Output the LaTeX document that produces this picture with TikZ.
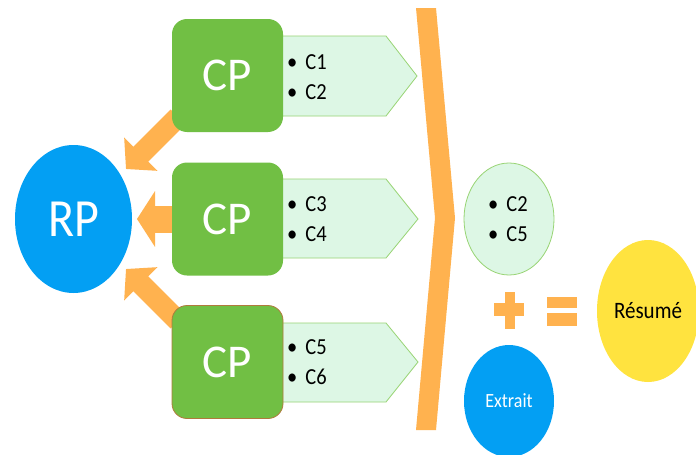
\documentclass[tikz,border=0pt]{standalone}
\usepackage{fontspec}
\usepackage{graphicx}
\setmainfont{Carlito}
\usetikzlibrary{shapes.geometric,arrows.meta,calc}
\definecolor{cpgreen}{HTML}{71BF44}
\definecolor{lightgreen}{HTML}{DDF7E5}
\definecolor{lgborder}{HTML}{98D474}
\definecolor{orng}{HTML}{FFB24F}
\definecolor{blu}{HTML}{039FF3}
\definecolor{yel}{HTML}{FFE33F}
\definecolor{brownb}{HTML}{B07A3C}
\newcommand{\vstr}[1]{\scalebox{1}[1.12]{#1}}
\newcommand{\itm}[1]{\vstr{\textbullet\hspace{8pt}#1}}
\tikzset{
  cpbox/.style={rectangle, rounded corners=15pt, fill=cpgreen, minimum width=111pt, minimum height=113pt, text=white, font=\fontsize{47}{47}\selectfont, inner sep=0pt},
  tag/.style={fill=lightgreen, draw=lgborder, line width=0.8pt},
  listtxt/.style={align=left, inner sep=0pt, anchor=west, font=\fontsize{20.5}{30}\selectfont},
  bigarrow/.style={draw=orng, line width=21pt, -{Triangle[length=21pt,width=46pt]}},
  oval/.style={ellipse, inner sep=0pt},
}
\begin{document}
\begin{tikzpicture}[x=1pt,y=-1pt]
\useasboundingbox (0,0) rectangle (696,455);
\fill[white] (0,0) rectangle (696,455);
% pentagons
\path[tag] (270,36) -- (386,36) -- (417,76) -- (386,116) -- (270,116) -- cycle;
\path[tag] (270,179) -- (386,179) -- (418,219) -- (386,258) -- (270,258) -- cycle;
\path[tag] (270,323) -- (386,323) -- (418,362) -- (386,402) -- (270,402) -- cycle;
% arrows
\coordinate (a1s) at (178,117);
\coordinate (a1e) at (126,169);
\coordinate (a2s) at (175,219);
\coordinate (a2e) at (137,219);
\coordinate (a3s) at (178,321);
\coordinate (a3e) at (126,269);
\draw[bigarrow] (a1s) -- (a1e);
\draw[bigarrow, line width=27pt, -{Triangle[length=18pt,width=55pt]}] (a2s) -- (a2e);
\draw[bigarrow] (a3s) -- (a3e);
% boxes
\node[cpbox] (cp1) at (227.5,75.5) {CP};
\node[cpbox] (cp2) at (227.5,219) {CP};
\node[cpbox, draw=brownb, line width=0.8pt] (cp3) at (227.5,362) {CP};
\node[listtxt] (l1) at (287,77) {\itm{C1}\\\itm{C2}};
\node[listtxt] (l2) at (287,219) {\itm{C3}\\\itm{C4}};
\node[listtxt] (l3) at (287,362) {\itm{C5}\\\itm{C6}};
% RP
\node[oval, fill=blu, minimum width=117pt, minimum height=148pt, text=white, font=\fontsize{48}{48}\selectfont] (rp) at (73.5,219) {\vstr{RP}};
% chevron
\fill[orng] (416,8) -- (436,8) -- (455,218) -- (436,430) -- (416,430) -- (435,218) -- cycle;
% result
\node[oval, fill=lightgreen, draw=lgborder, line width=0.8pt, minimum width=90pt, minimum height=112pt] (sel) at (509,219) {};
\node[listtxt] (l4) at (488,219) {\itm{C2}\\\itm{C5}};
\fill[orng] (505,292) rectangle (515,329);
\fill[orng] (494,303) rectangle (524,316);
\fill[orng] (547,297) rectangle (577,308);
\fill[orng] (547,313) rectangle (577,326);
\node[oval, fill=blu, minimum width=90pt, minimum height=112pt, text=white, font=\fontsize{18}{18}\selectfont] (ext) at (509,401) {\vstr{Extrait}};
\node[oval, fill=yel, minimum width=102pt, minimum height=142pt, font=\fontsize{21}{21}\selectfont] (res) at (648,311) {\vstr{Résumé}};
\end{tikzpicture}
\end{document}
